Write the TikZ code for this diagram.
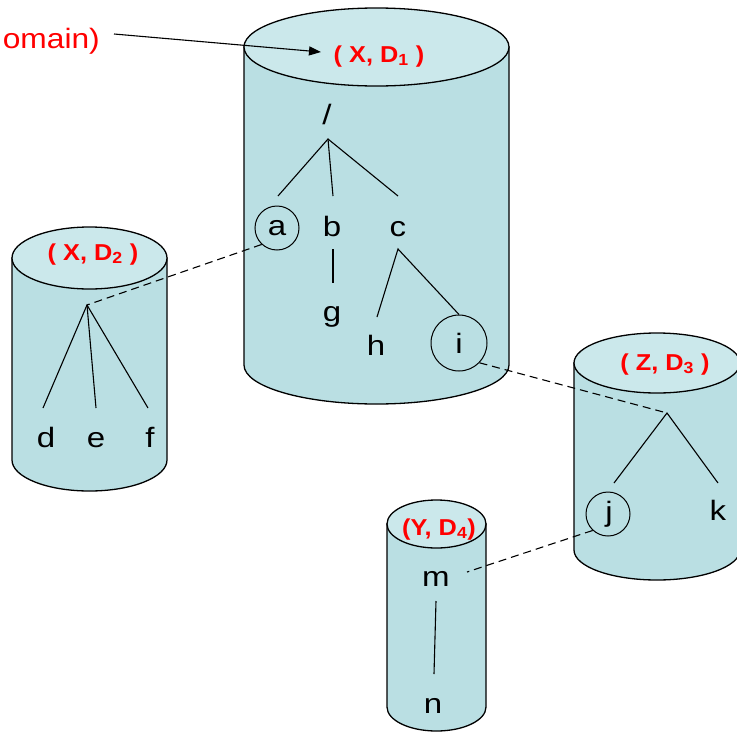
\documentclass[tikz,border=0pt]{standalone}
\usepackage{fontspec}
\setmainfont{Liberation Sans}
\usetikzlibrary{arrows.meta}
\definecolor{cylbody}{RGB}{186,223,227}
\definecolor{cyltop}{RGB}{203,232,235}
\definecolor{lblred}{RGB}{255,0,0}
\begin{document}
\begin{tikzpicture}[x=1pt,y=1pt,
  letter/.style={font=\fontsize{28}{30}\selectfont, inner sep=0pt, xscale=1.18},
  circ/.style={draw, circle, minimum size=44pt, inner sep=0pt, line width=1pt},
  tag/.style={text=lblred, font=\fontsize{23}{26}\selectfont\bfseries, inner sep=0pt, anchor=base, xscale=1.1},
  treeedge/.style={line width=1.1pt},
  link/.style={line width=1.1pt, dash pattern=on 8pt off 5pt},
  cylside/.style={fill=cylbody, draw=black, line width=1.3pt},
  cyltopface/.style={fill=cyltop, draw=black, line width=1.3pt}]
\useasboundingbox (0,0) rectangle (737,-734);

% ---------- cylinders ----------
% cylinder 1
\filldraw[cylside] (244,-47) -- (244,-365) arc[start angle=180, end angle=360, x radius=132.5, y radius=39] -- (509,-47) -- cycle;
\filldraw[cyltopface] (376.5,-47) ellipse[x radius=132.5, y radius=39];
% cylinder 2
\filldraw[cylside] (12,-258) -- (12,-460) arc[start angle=180, end angle=360, x radius=77.5, y radius=31] -- (167,-258) -- cycle;
\filldraw[cyltopface] (89.5,-258) ellipse[x radius=77.5, y radius=31];
% cylinder 3
\filldraw[cylside] (574,-363) -- (574,-550) arc[start angle=180, end angle=360, x radius=83, y radius=30] -- (740,-363) -- cycle;
\filldraw[cyltopface] (657,-363) ellipse[x radius=83, y radius=30];
% cylinder 4
\filldraw[cylside] (387,-524) -- (387,-707) arc[start angle=180, end angle=360, x radius=49.5, y radius=24] -- (486,-524) -- cycle;
\filldraw[cyltopface] (436.5,-524) ellipse[x radius=49.5, y radius=24];

% ---------- labels on the lids ----------
\node[tag] (d1) at (379,-62) {( X, D\textsubscript{1} )};
\node[tag] (d2) at (93,-260) {( X, D\textsubscript{2} )};
\node[tag] (d3) at (665,-370) {( Z, D\textsubscript{3} )};
\node[tag] (d4) at (439,-535) {(Y, D\textsubscript{4})};

% ---------- legend text and arrow ----------
\node[letter, xscale=0.96, text=lblred, anchor=base east] (dom) at (100,-48) {omain)};
\coordinate (tailA) at (114,-34);
\coordinate (headA) at (321,-52);
\draw[line width=1.1pt, -{Triangle[length=12pt,width=9pt]}] (tailA) -- (headA);

% ---------- tree in cylinder 1 ----------
\node[letter, anchor=base] (slash) at (327,-124) {/};
\node[circ] (a) at (277,-228) {};
\node[letter] (la) at (a) {a};
\node[letter, anchor=base] (b) at (332,-236) {b};
\node[letter, anchor=base] (c) at (398,-236) {c};
\node[letter, anchor=base] (g) at (332,-321) {g};
\node[letter, anchor=base] (h) at (376,-355) {h};
\node[circ, minimum size=56pt] (i) at (459,-343) {};
\node[letter] (li) at (i) {i};
\coordinate (ap1) at (328,-139);
\coordinate (ea) at (278,-196);
\coordinate (eb) at (333,-196);
\coordinate (ec) at (398,-196);
\coordinate (bt) at (333,-249);
\coordinate (gt) at (333,-283);
\coordinate (ct) at (398,-249);
\coordinate (ht) at (377,-317);
\draw[treeedge] (ea) -- (ap1) -- (ec);
\draw[treeedge] (ap1) -- (eb);
\draw[treeedge] (bt) -- (gt);
\draw[treeedge] (ht) -- (ct) -- (i.north);

% ---------- tree in cylinder 2 ----------
\node[letter, anchor=base] (d) at (46,-447) {d};
\node[letter, anchor=base] (e) at (96,-447) {e};
\node[letter, anchor=base] (f) at (150,-447) {f};
\coordinate (ap2) at (87,-305);
\coordinate (ed) at (43,-408);
\coordinate (ee) at (96,-408);
\coordinate (ef) at (148,-408);
\draw[treeedge] (ed) -- (ap2) -- (ef);
\draw[treeedge] (ap2) -- (ee);

% ---------- tree in cylinder 3 ----------
\node[circ] (j) at (608,-514) {};
\node[letter] (lj) at (609,-514) {j};
\node[letter, anchor=base] (k) at (718,-520) {k};
\coordinate (ap3) at (667,-413);
\coordinate (ej) at (614,-483);
\coordinate (ek) at (718,-483);
\draw[treeedge] (ej) -- (ap3) -- (ek);

% ---------- tree in cylinder 4 ----------
\node[letter, anchor=base] (m) at (436,-586) {m};
\node[letter, anchor=base] (n) at (433,-713) {n};
\coordinate (mb) at (436,-601);
\coordinate (nt) at (434,-674);
\draw[treeedge] (mb) -- (nt);

% ---------- dashed links ----------
\coordinate (mend) at (467,-572);
\draw[link] (a.-133) -- (ap2);
\draw[link] (i.-44) -- (ap3);
\draw[link] (j.-133) -- (mend);
\end{tikzpicture}
\end{document}
